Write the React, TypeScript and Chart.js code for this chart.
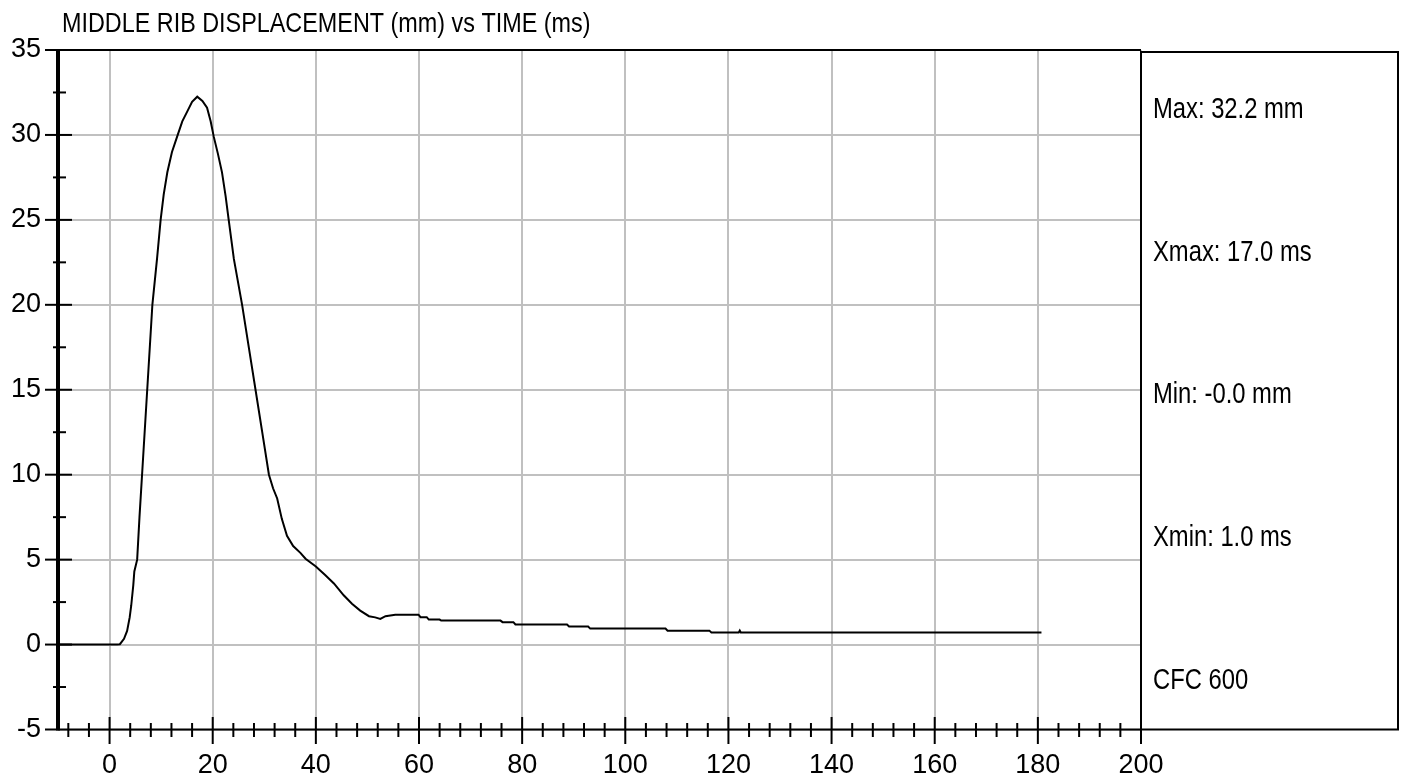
import React, { useEffect, useRef } from "react";
import { Chart, registerables } from "chart.js";

Chart.register(...registerables);

const titleText = "MIDDLE RIB DISPLACEMENT (mm) vs TIME (ms)";

const timeMs = [
  -10, 1.5, 2.0, 2.8, 3.4, 3.9, 4.2, 4.6, 4.8, 5.35, 5.8, 6.3, 6.8, 7.3, 7.8, 8.3,
  9.2, 9.9, 10.5, 11.2, 12.1, 13.1, 14.1, 15.1, 16.0, 17.0, 18.0, 18.9, 19.6, 20.2,
  21.0, 21.8, 22.5, 23.1, 24.1, 25.7, 27.0, 28.3, 29.6, 30.9, 31.7, 32.5, 33.4, 34.4,
  35.6, 37.0, 38.0, 40.0, 41.8, 43.5, 45.4, 47.0, 48.6, 50.3, 51.5, 52.5, 53.5, 55.4,
  59.9, 60.3, 61.5, 61.9, 64.0, 64.3, 75.8, 76.2, 78.3, 78.7, 88.7, 89.1, 92.8, 93.2,
  107.8, 108.2, 116.3, 116.7, 122.0, 122.2, 122.4, 180.7,
];

const displacementMm = [
  0, 0, 0.02, 0.34, 0.8, 1.6, 2.3, 3.5, 4.3, 5.0, 7.5, 10.0, 12.5, 15.0, 17.5, 20.0,
  22.7, 25.0, 26.5, 27.8, 29.0, 29.9, 30.8, 31.4, 31.95, 32.25, 32.0, 31.6, 30.8, 29.9,
  28.9, 27.8, 26.4, 25.0, 22.7, 20.0, 17.5, 15.0, 12.5, 10.0, 9.2, 8.6, 7.4, 6.4,
  5.8, 5.4, 5.05, 4.6, 4.1, 3.6, 2.9, 2.4, 2.0, 1.67, 1.6, 1.51, 1.67, 1.76,
  1.76, 1.61, 1.61, 1.47, 1.47, 1.41, 1.41, 1.32, 1.32, 1.18, 1.18, 1.06, 1.06, 0.94,
  0.94, 0.82, 0.82, 0.71, 0.71, 0.82, 0.71, 0.71,
];

const xTickValues = [0, 20, 40, 60, 80, 100, 120, 140, 160, 180, 200];
const yTickValues = [-5, 0, 5, 10, 15, 20, 25, 30, 35];
const statLines = ["Max: 32.2 mm", "Xmax: 17.0 ms", "Min: -0.0 mm", "Xmin: 1.0 ms", "CFC 600"];

const X_MIN = -10;
const X_MAX = 200;
const Y_MIN = -5;
const Y_MAX = 35;
const X_MINOR_STEP = 4;
const Y_MINOR_STEP = 2.5;

const SANS = '"Liberation Sans", Arial, sans-serif';
const NARROW_SCALE = 0.82;

const framePlugin = {
  id: "frame",
  afterDraw(chart: any) {
    const { ctx, chartArea: a, scales } = chart;
    const xs = scales.x;
    const ys = scales.y;
    const line = (x1: number, y1: number, x2: number, y2: number) => {
      ctx.beginPath();
      ctx.moveTo(x1, y1);
      ctx.lineTo(x2, y2);
      ctx.stroke();
    };
    const narrowText = (s: string, x: number, y: number, size: number) => {
      ctx.save();
      ctx.font = `${size}px ${SANS}`;
      ctx.textAlign = "left";
      ctx.textBaseline = "alphabetic";
      ctx.translate(x, y);
      ctx.scale(NARROW_SCALE, 1);
      ctx.fillText(s, 0, 0);
      ctx.restore();
    };
    ctx.save();
    ctx.strokeStyle = "#000";
    ctx.fillStyle = "#000";
    ctx.lineCap = "butt";

    // title
    narrowText(titleText, 62, 32, 28.5);

    // frame
    ctx.lineWidth = 2;
    line(a.left, a.top, a.right, a.top);
    line(a.left, a.bottom, a.right, a.bottom);
    ctx.lineWidth = 4;
    line(a.left, a.top - 1, a.left, a.bottom + 1);

    // x ticks
    ctx.lineWidth = 2;
    for (const v of xTickValues) {
      const px = xs.getPixelForValue(v);
      line(px, a.bottom - 12.5, px, a.bottom + 14.5);
    }
    for (let v = Math.ceil(X_MIN / X_MINOR_STEP) * X_MINOR_STEP; v < X_MAX; v += X_MINOR_STEP) {
      if (v % 20 === 0) continue;
      const px = xs.getPixelForValue(v);
      line(px, a.bottom - 6.5, px, a.bottom + 7.5);
    }
    // y ticks
    for (const v of yTickValues) {
      const py = ys.getPixelForValue(v);
      const inner = v === Y_MIN || v === Y_MAX ? 0 : 14;
      line(a.left - 13, py, a.left + inner, py);
    }
    for (let v = Y_MIN + Y_MINOR_STEP; v < Y_MAX; v += Y_MINOR_STEP * 2) {
      const py = ys.getPixelForValue(v);
      line(a.left - 5, py, a.left + 8, py);
    }

    // right stats panel
    const panelRight = chart.width - 6;
    ctx.lineWidth = 2;
    ctx.strokeRect(a.right, a.top + 2, panelRight - a.right, a.bottom - a.top - 2);
    const span = a.bottom - a.top;
    statLines.forEach((s, i) => {
      narrowText(s, a.right + 12, a.top + span * (0.1 + i * 0.21), 29);
    });
    ctx.restore();
  },
};

export default function App() {
  const canvasRef = useRef<HTMLCanvasElement | null>(null);

  useEffect(() => {
    const canvas = canvasRef.current;
    if (!canvas) return;
    const points = timeMs.map((t, i) => ({ x: t, y: displacementMm[i] }));
    const chart = new Chart(canvas, {
      type: "line",
      data: {
        datasets: [
          {
            data: points,
            borderColor: "#000",
            borderWidth: 2,
            pointRadius: 0,
            tension: 0,
            fill: false,
          },
        ],
      },
      options: {
        responsive: false,
        animation: false,
        events: [],
        layout: { padding: { left: 0, top: 50, right: 263, bottom: 0 } },
        plugins: { legend: { display: false }, tooltip: { enabled: false }, title: { display: false } },
        scales: {
          x: {
            type: "linear",
            min: X_MIN,
            max: X_MAX,
            afterBuildTicks: (scale: any) => {
              scale.ticks = xTickValues.map((v) => ({ value: v }));
            },
            afterFit: (scale: any) => {
              scale.height = 53.5;
            },
            grid: { color: "#c0c0c0", lineWidth: 2, drawTicks: false },
            border: { display: false },
            ticks: {
              color: "#000",
              font: { family: SANS, size: 27 },
              padding: 20,
              maxRotation: 0,
              autoSkip: false,
            },
          },
          y: {
            type: "linear",
            min: Y_MIN,
            max: Y_MAX,
            afterBuildTicks: (scale: any) => {
              scale.ticks = yTickValues.map((v) => ({ value: v }));
            },
            afterFit: (scale: any) => {
              scale.width = 58;
            },
            grid: { color: "#c0c0c0", lineWidth: 2, drawTicks: false },
            border: { display: false },
            ticks: {
              color: "#000",
              font: { family: SANS, size: 27 },
              padding: 17,
              autoSkip: false,
            },
          },
        },
      },
      plugins: [framePlugin],
    });
    return () => chart.destroy();
  }, []);

  return (
    <div style={{ position: "absolute", left: 0, top: 0, width: 1404, height: 783, background: "#fff" }}>
      <canvas ref={canvasRef} width={1404} height={783} style={{ display: "block" }} />
    </div>
  );
}
